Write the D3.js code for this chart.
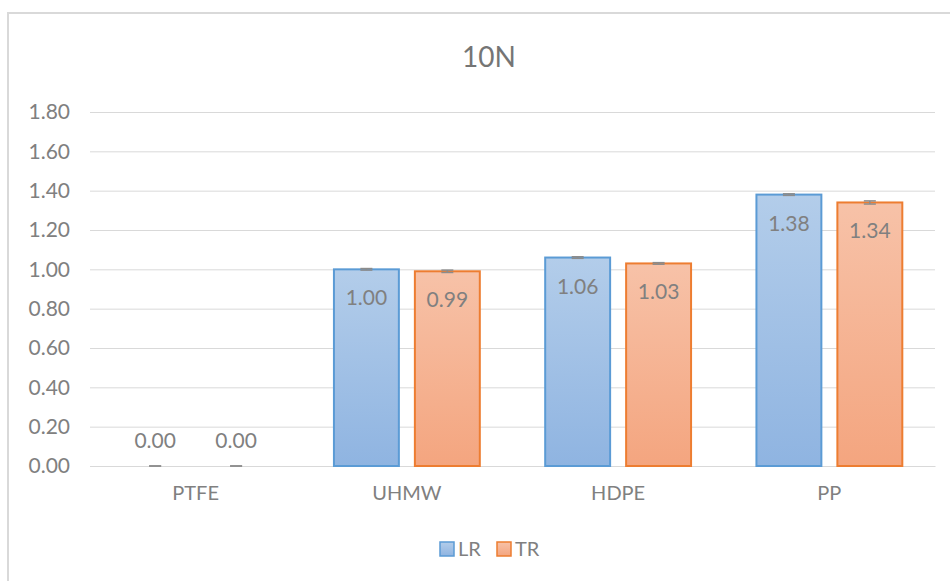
<!DOCTYPE html>
<html>
<head>
<meta charset="utf-8">
<script src="https://cdn.jsdelivr.net/npm/d3@7"></script>
<style>
    body { margin: 0; background: #fff; }
    svg { display: block; font-family: Lato, "Open Sans", sans-serif; }
</style>
</head>
<body>
<div id="chart"></div>
<script>
const categories = ['PTFE', 'UHMW', 'HDPE', 'PP'];
const seriesNames = ['LR', 'TR'];
const lrValues = [0.00, 1.00, 1.06, 1.38];
const trValues = [0.00, 0.99, 1.03, 1.34];
const lrErrors = [0.000, 0.004, 0.004, 0.004];
const trErrors = [0.000, 0.006, 0.004, 0.008];
const yTicks = [0, 0.2, 0.4, 0.6, 0.8, 1.0, 1.2, 1.4, 1.6, 1.8];

const width = 950;
const height = 581;

const svg = d3.select('#chart')
    .append('svg')
    .attr('width', width)
    .attr('height', height);

// chart border
svg.append('rect')
    .attr('x', 8)
    .attr('y', 13)
    .attr('width', 970)
    .attr('height', 600)
    .attr('fill', '#fff')
    .attr('stroke', '#d9d9d9')
    .attr('stroke-width', 2);

svg.append('text')
    .attr('x', 489)
    .attr('y', 67)
    .attr('text-anchor', 'middle')
    .attr('fill', '#757575')
    .style('font-size', '28px')
    .text('10N');

const x = d3.scaleBand()
    .domain(categories)
    .range([90, 935])
    .paddingInner(0.3)
    .paddingOuter(0.15);

const xSub = d3.scaleBand()
    .domain(seriesNames)
    .range([0, x.bandwidth()])
    .paddingInner(0.173);

const y = d3.scaleLinear()
    .domain([0, 1.8])
    .range([466, 112]);

// gridlines + labels
const yAxis = d3.axisLeft(y)
    .tickValues(yTicks)
    .tickSize(-(935 - 90))
    .tickPadding(20)
    .tickFormat(d3.format('.2f'));

const gy = svg.append('g')
    .attr('transform', 'translate(90,0)')
    .call(yAxis);
gy.select('.domain').remove();
gy.selectAll('.tick line').attr('stroke', '#d9d9d9').attr('stroke-width', 1);
gy.selectAll('.tick text')
    .attr('fill', '#808080')
    .style('font-size', '21px')
    .style('font-family', 'Lato, sans-serif');

const xAxis = d3.axisBottom(x).tickSize(0).tickPadding(20);
const gx = svg.append('g')
    .attr('transform', 'translate(0,466)')
    .call(xAxis);
gx.select('.domain').attr('stroke', '#d9d9d9');
gx.selectAll('.tick text')
    .attr('fill', '#808080')
    .style('font-size', '20px')
    .style('font-family', 'Lato, sans-serif');

// gradients
const defs = svg.append('defs');
const grads = [
    {id: 'gLR', top: '#b3cdea', bottom: '#8fb4e1'},
    {id: 'gTR', top: '#f7c2a8', bottom: '#f4a57f'}
];
grads.forEach(g => {
    const lg = defs.append('linearGradient')
        .attr('id', g.id)
        .attr('x1', 0).attr('y1', 0).attr('x2', 0).attr('y2', 1);
    lg.append('stop').attr('offset', '0%').attr('stop-color', g.top);
    lg.append('stop').attr('offset', '100%').attr('stop-color', g.bottom);
});

const series = [
    {name: 'LR', values: lrValues, errors: lrErrors, fill: 'url(#gLR)', stroke: '#5b9bd5'},
    {name: 'TR', values: trValues, errors: trErrors, fill: 'url(#gTR)', stroke: '#ed7d31'}
];

const nodes = [];
series.forEach(s => {
    categories.forEach((c, i) => {
        nodes.push({cat: c, series: s, value: s.values[i], err: s.errors[i]});
    });
});

const bars = svg.append('g').attr('class', 'bars');
bars.selectAll('rect')
    .data(nodes.filter(n => n.value > 0))
    .enter()
    .append('rect')
    .attr('x', n => x(n.cat) + xSub(n.series.name) + 1)
    .attr('y', n => y(n.value))
    .attr('width', xSub.bandwidth() - 2)
    .attr('height', n => y(0) - y(n.value))
    .attr('fill', n => n.series.fill)
    .attr('stroke', n => n.series.stroke)
    .attr('stroke-width', 2);

// error bars
const errG = svg.append('g').attr('class', 'errors')
    .attr('stroke', '#8c8c8c')
    .attr('stroke-width', 1.5);
nodes.forEach(n => {
    const cx = x(n.cat) + xSub(n.series.name) + xSub.bandwidth() / 2;
    const y1 = y(n.value + n.err);
    const y0 = y(Math.max(0, n.value - n.err));
    errG.append('line').attr('x1', cx).attr('x2', cx).attr('y1', y1).attr('y2', y0);
    errG.append('line').attr('x1', cx - 6).attr('x2', cx + 6).attr('y1', y1).attr('y2', y1);
    errG.append('line').attr('x1', cx - 6).attr('x2', cx + 6).attr('y1', y0).attr('y2', y0);
});

// data labels
svg.append('g').attr('class', 'labels')
    .selectAll('text')
    .data(nodes)
    .enter()
    .append('text')
    .attr('x', n => x(n.cat) + xSub(n.series.name) + xSub.bandwidth() / 2)
    .attr('y', n => n.value > 0 ? y(n.value) + 36 : y(0) - 18)
    .attr('text-anchor', 'middle')
    .attr('fill', '#808080')
    .style('font-size', '21px')
    .text(n => d3.format('.2f')(n.value));

// legend
const legend = svg.append('g').attr('class', 'legend');
const legendItems = [
    {name: 'LR', x: 440, fill: 'url(#gLR)', stroke: '#5b9bd5'},
    {name: 'TR', x: 497, fill: 'url(#gTR)', stroke: '#ed7d31'}
];
legendItems.forEach(l => {
    legend.append('rect')
        .attr('x', l.x)
        .attr('y', 542)
        .attr('width', 14)
        .attr('height', 14)
        .attr('fill', l.fill)
        .attr('stroke', l.stroke)
        .attr('stroke-width', 1.5);
    legend.append('text')
        .attr('x', l.x + 18)
        .attr('y', 556)
        .attr('fill', '#808080')
        .style('font-size', '20px')
        .text(l.name);
});
</script>
</body>
</html>
